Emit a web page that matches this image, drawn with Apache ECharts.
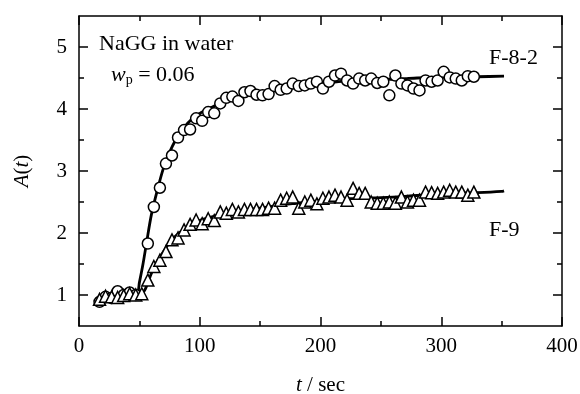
<!DOCTYPE html>
<html>
<head>
<meta charset="utf-8">
<script src="https://cdn.jsdelivr.net/npm/echarts@6/dist/echarts.min.js"></script>
<style>
  html, body { margin: 0; padding: 0; background: #fff; }
  #chart { width: 580px; height: 394px; }
</style>
</head>
<body>
<div id="chart"></div>
<script>
// F-8-2 (circles)
const tCircle = [17, 22, 27, 32, 37, 42, 47, 57, 62, 67, 72, 77, 82, 87, 92, 97, 102, 107, 112, 117, 122, 127, 132, 137, 142, 147, 152, 157, 162, 167, 172, 177, 182, 187, 192, 197, 202, 207, 212, 217, 222, 227, 232, 237, 242, 247, 252, 257, 262, 267, 272, 277, 282, 287, 292, 297, 302, 307, 312, 317, 322, 327]
const aCircle = [0.89, 0.97, 0.95, 1.06, 1.0, 1.04, 1.0, 1.83, 2.42, 2.73, 3.12, 3.25, 3.54, 3.66, 3.67, 3.85, 3.81, 3.95, 3.93, 4.09, 4.18, 4.2, 4.13, 4.27, 4.29, 4.23, 4.22, 4.24, 4.37, 4.31, 4.33, 4.41, 4.37, 4.38, 4.41, 4.44, 4.33, 4.44, 4.54, 4.57, 4.46, 4.41, 4.49, 4.46, 4.49, 4.42, 4.44, 4.22, 4.54, 4.41, 4.38, 4.33, 4.30, 4.46, 4.44, 4.46, 4.6, 4.51, 4.49, 4.46, 4.53, 4.52]

// F-9 (triangles)
const tTri = [17, 22, 27, 32, 37, 42, 47, 52, 57, 62, 67, 72, 77, 82, 87, 92, 97, 102, 107, 112, 117, 122, 127, 132, 137, 142, 147, 152, 157, 162, 167, 172, 177, 182, 187, 192, 197, 202, 207, 212, 217, 222, 227, 232, 237, 242, 247, 252, 257, 262, 267, 272, 277, 282, 287, 292, 297, 302, 307, 312, 317, 322, 327]
const aTri = [0.93, 0.98, 0.97, 0.96, 0.99, 1.02, 1.0, 1.02, 1.24, 1.46, 1.56, 1.70, 1.89, 1.92, 2.05, 2.14, 2.21, 2.15, 2.23, 2.2, 2.34, 2.32, 2.38, 2.34, 2.38, 2.38, 2.38, 2.38, 2.4, 2.4, 2.53, 2.56, 2.58, 2.4, 2.5, 2.53, 2.47, 2.56, 2.58, 2.61, 2.58, 2.53, 2.72, 2.64, 2.64, 2.50, 2.48, 2.48, 2.5, 2.48, 2.58, 2.5, 2.53, 2.53, 2.66, 2.65, 2.64, 2.66, 2.69, 2.66, 2.66, 2.61, 2.66]

// fitted curves
const tFit1 = [15, 20, 30, 40, 48, 50, 53, 56, 60, 65, 70, 75, 80, 85, 90, 95, 100, 110, 120, 130, 140, 150, 160, 170, 180, 190, 200, 210, 220, 230, 240, 250, 260, 270, 280, 300, 330, 352]
const aFit1 = [0.92, 0.95, 0.98, 1.0, 1.02, 1.2, 1.5, 1.85, 2.3, 2.7, 3.05, 3.3, 3.5, 3.65, 3.77, 3.86, 3.93, 4.03, 4.12, 4.18, 4.23, 4.26, 4.29, 4.32, 4.35, 4.38, 4.4, 4.43, 4.45, 4.46, 4.47, 4.48, 4.48, 4.49, 4.5, 4.51, 4.52, 4.53]
const tFit2 = [15, 30, 45, 52, 55, 60, 65, 70, 75, 80, 90, 100, 110, 120, 130, 140, 150, 160, 170, 180, 190, 200, 210, 220, 230, 250, 270, 290, 310, 330, 350, 352]
const aFit2 = [0.93, 0.97, 1.0, 1.02, 1.1, 1.35, 1.55, 1.7, 1.85, 1.95, 2.1, 2.2, 2.26, 2.31, 2.35, 2.38, 2.4, 2.43, 2.46, 2.48, 2.5, 2.52, 2.54, 2.55, 2.56, 2.57, 2.59, 2.62, 2.64, 2.65, 2.67, 2.68]

const yMajor = [1, 2, 3, 4, 5]
const yMinor = [1.5, 2.5, 3.5, 4.5]

const FONT = '"Liberation Serif", "Times New Roman", Times, "DejaVu Serif", serif'
const INK = '#000'

const zip = (xs, ys) => xs.map((x, i) => [x, ys[i]])

const yBase = { type: 'value', min: 0.5, max: 5.5, splitLine: { show: false } }
const italicName = { fontFamily: FONT, fontSize: 21, color: INK, rich: { i: { fontFamily: FONT, fontSize: 21, fontStyle: 'italic', color: INK } } }

const chart = echarts.init(document.getElementById('chart'), null, { renderer: 'canvas' })
chart.setOption({
  animation: false,
  backgroundColor: '#fff',
  textStyle: { fontFamily: FONT },
  grid: { left: 79, right: 18, top: 16, bottom: 68, outerBoundsMode: 'none', containLabel: false },
  xAxis: [
    {
      type: 'value', min: 0, max: 400, interval: 100, position: 'bottom',
      name: '{i|t} / sec', nameLocation: 'middle', nameGap: 49,
      nameTextStyle: italicName,
      axisLine: { lineStyle: { color: INK, width: 1.5 } },
      axisTick: { inside: true, length: 9, lineStyle: { color: INK, width: 1.5 } },
      minorTick: { show: true, splitNumber: 2, length: 5, lineStyle: { color: INK, width: 1.5 } },
      axisLabel: { fontFamily: FONT, fontSize: 21, color: INK, margin: 10 },
      splitLine: { show: false },
    },
    {
      type: 'value', min: 0, max: 400, interval: 100, position: 'top',
      axisLine: { lineStyle: { color: INK, width: 1.5 } },
      axisTick: { inside: true, length: 9, lineStyle: { color: INK, width: 1.5 } },
      minorTick: { show: true, splitNumber: 2, length: 5, lineStyle: { color: INK, width: 1.5 } },
      axisLabel: { show: false },
      splitLine: { show: false },
    },
  ],
  yAxis: [
    {
      ...yBase, position: 'left',
      name: '{i|A}({i|t})', nameLocation: 'middle', nameGap: 46, nameRotate: 90,
      nameTextStyle: italicName,
      axisLine: { lineStyle: { color: INK, width: 1.5 } },
      axisTick: { inside: true, length: 9, customValues: yMajor, lineStyle: { color: INK, width: 1.5 } },
      axisLabel: { customValues: yMajor, fontFamily: FONT, fontSize: 21, color: INK, margin: 12 },
    },
    {
      ...yBase, position: 'left',
      axisLine: { show: false },
      axisTick: { inside: true, length: 5, customValues: yMinor, lineStyle: { color: INK, width: 1.5 } },
      axisLabel: { show: false },
    },
    {
      ...yBase, position: 'right',
      axisLine: { lineStyle: { color: INK, width: 1.5 } },
      axisTick: { inside: true, length: 9, customValues: yMajor, lineStyle: { color: INK, width: 1.5 } },
      axisLabel: { show: false },
    },
    {
      ...yBase, position: 'right',
      axisLine: { show: false },
      axisTick: { inside: true, length: 5, customValues: yMinor, lineStyle: { color: INK, width: 1.5 } },
      axisLabel: { show: false },
    },
  ],
  graphic: [
    { type: 'text', left: 99, top: 33, style: { text: 'NaGG in water', font: `22px ${FONT}`, fill: INK } },
    {
      type: 'text', left: 111, top: 64,
      style: {
        text: '{i|w}{s|p} = 0.06',
        font: `22px ${FONT}`, fill: INK,
        rich: {
          i: { font: `italic 22px ${FONT}`, fill: INK },
          s: { font: `14px ${FONT}`, fill: INK, padding: [10, 0, 0, 0] },
        },
      },
    },
    { type: 'text', left: 489, top: 47, style: { text: 'F-8-2', font: `22px ${FONT}`, fill: INK } },
    { type: 'text', left: 489, top: 219, style: { text: 'F-9', font: `22px ${FONT}`, fill: INK } },
  ],
  series: [
    {
      type: 'line', data: zip(tFit1, aFit1), showSymbol: false, smooth: 0.3,
      lineStyle: { color: INK, width: 2.8 }, z: 2,
    },
    {
      type: 'line', data: zip(tFit2, aFit2), showSymbol: false, smooth: 0.3,
      lineStyle: { color: INK, width: 2.8 }, z: 2,
    },
    {
      type: 'scatter', data: zip(tCircle, aCircle), symbol: 'circle', symbolSize: 11,
      itemStyle: { color: '#fff', borderColor: INK, borderWidth: 1.5, opacity: 1 }, z: 3,
    },
    {
      type: 'scatter', data: zip(tTri, aTri), symbol: 'triangle', symbolSize: 12,
      itemStyle: { color: '#fff', borderColor: INK, borderWidth: 1.5, opacity: 1 }, z: 3,
    },
  ],
})
</script>
</body>
</html>
